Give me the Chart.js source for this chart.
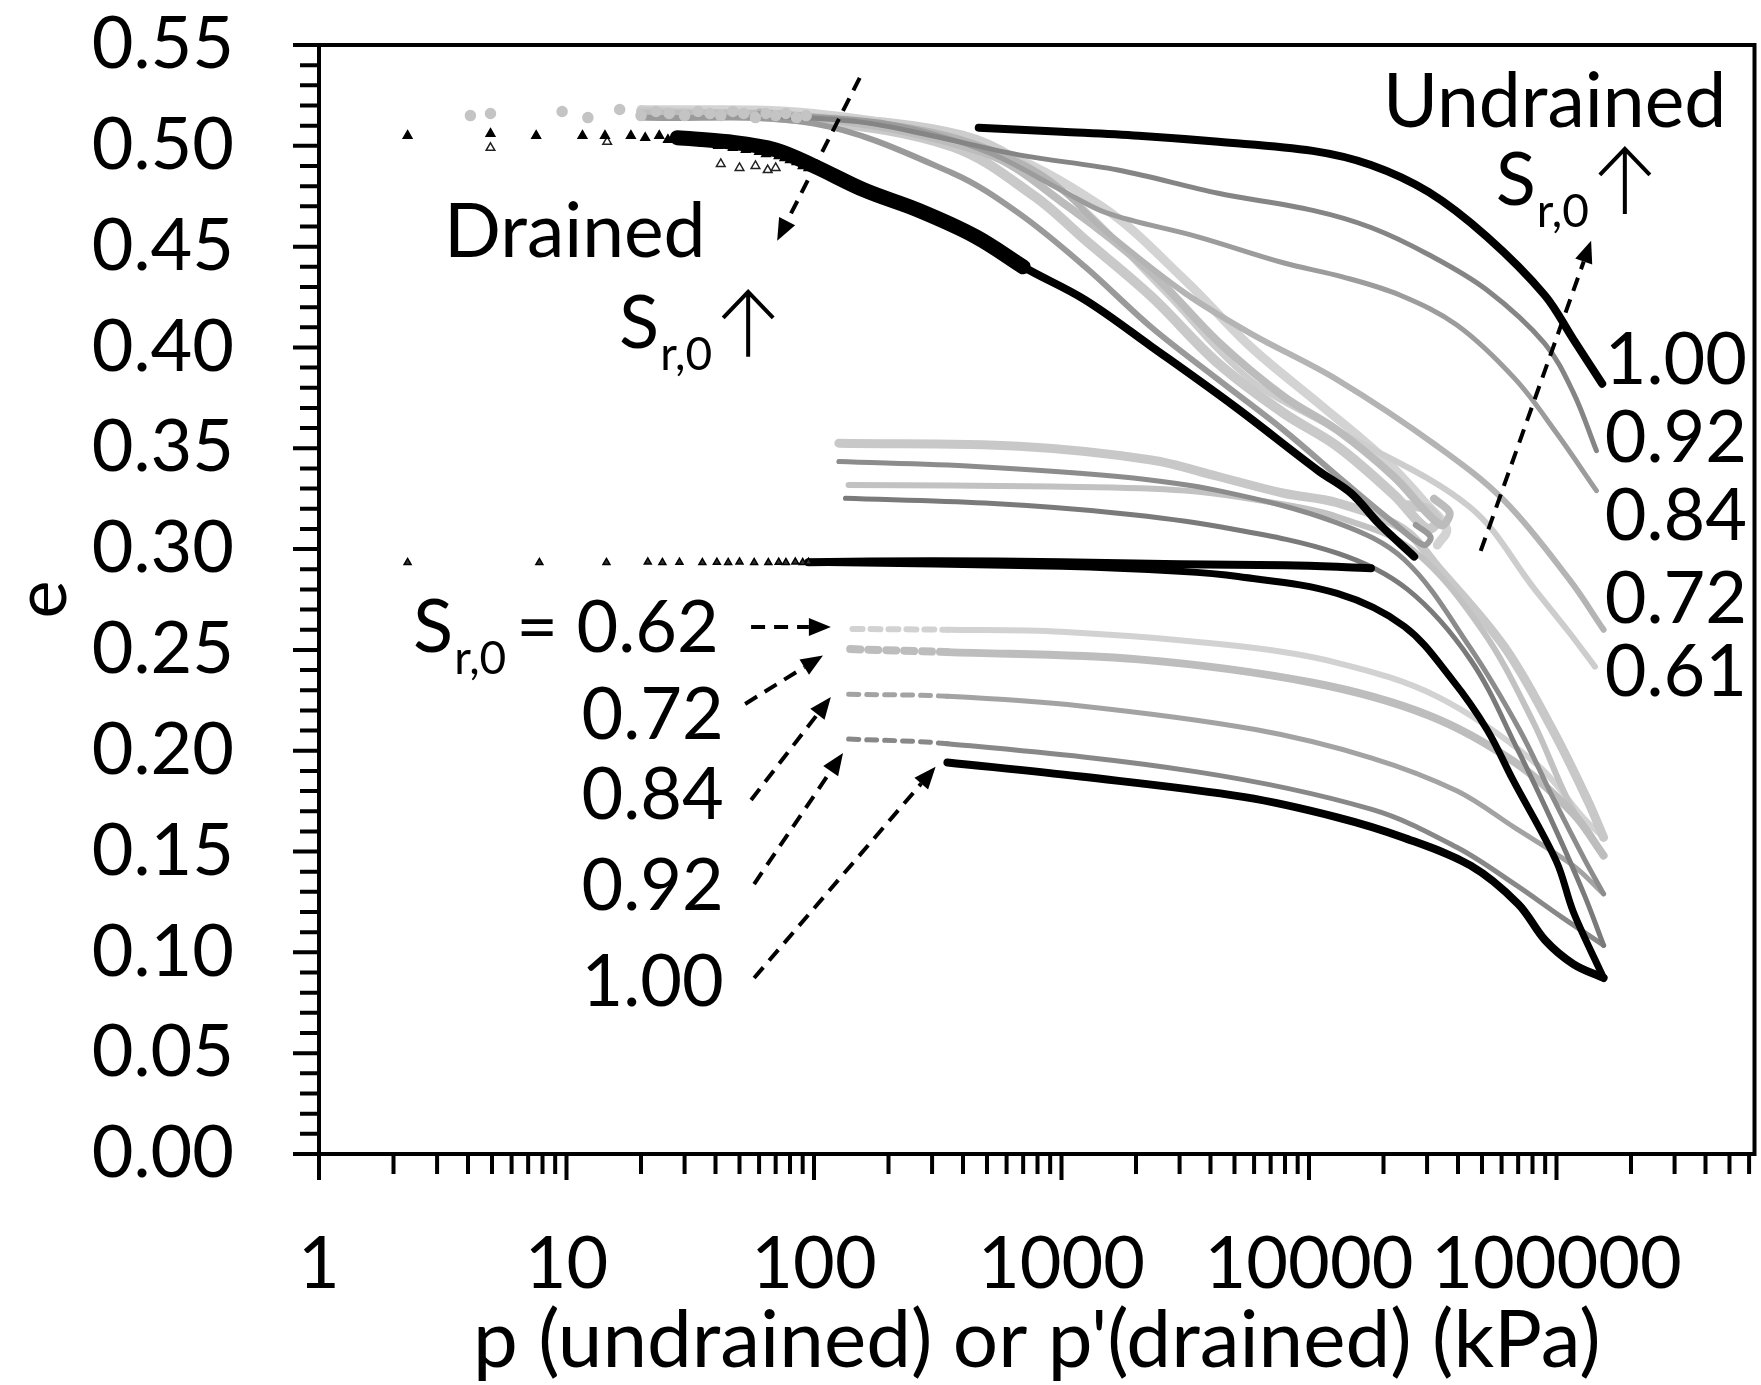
<!DOCTYPE html>
<html><head><meta charset="utf-8">
<script src="https://cdn.jsdelivr.net/npm/chart.js@4.4.0/dist/chart.umd.min.js"></script>
<style>html,body{margin:0;padding:0;background:#fff;}canvas{display:block;}</style>
</head><body>
<canvas id="c" width="1761" height="1385" style="width:1761px;height:1385px"></canvas>
<script>
// ---------- axis ranges and tick labels ----------
const X_MIN = 1, X_MAX = 631000;
const Y_MIN = 0, Y_MAX = 0.55;
const X_TICK_LABELS = ['1', '10', '100', '1000', '10000', '100000'];
const Y_TICK_LABELS = ['0.00','0.05','0.10','0.15','0.20','0.25','0.30','0.35','0.40','0.45','0.50','0.55'];
const X_TITLE = "p (undrained) or p'(drained) (kPa)";
const Y_TITLE = 'e';

// ---------- drained specimens: early scatter (p, e) ----------
const DR_TRI_P = [2.28, 4.93, 7.54, 11.6, 14.3, 18.2, 20.8, 23.7, 25.7, 27.8, 30, 32, 34, 36, 38, 41, 44, 47, 50, 53, 56, 60, 64, 68, 72, 76, 80, 85, 90, 95];
const DR_TRI_E = [0.505, 0.506, 0.505, 0.505, 0.505, 0.505, 0.504, 0.505, 0.503, 0.504, 0.503, 0.502, 0.503, 0.501, 0.502, 0.500, 0.501, 0.499, 0.500, 0.498, 0.499, 0.497, 0.496, 0.497, 0.495, 0.494, 0.493, 0.492, 0.490, 0.489];
const DR_HOLLOW_P = [4.93, 14.6, 42, 50, 58, 65, 70];
const DR_HOLLOW_E = [0.499, 0.502, 0.491, 0.489, 0.490, 0.488, 0.489];
const DR_CIRC_P = [4.09, 4.93, 9.6, 12.2, 16.4, 20, 23, 26, 30, 34, 38, 42, 47, 52, 58, 64, 70, 77, 85, 93];
const DR_CIRC_E = [0.515, 0.516, 0.517, 0.514, 0.518, 0.515, 0.517, 0.516, 0.515, 0.517, 0.516, 0.515, 0.517, 0.516, 0.514, 0.516, 0.515, 0.516, 0.514, 0.515];
const LOW_TRI_P = [2.28, 7.77, 14.5, 21.3, 24.4, 28.6, 35.4, 40.5, 45, 50, 57.3, 65.4, 72, 77, 84, 90, 95];
const LOW_TRI_E = [0.2934, 0.2934, 0.2934, 0.2936, 0.2934, 0.2935, 0.2933, 0.2935, 0.2934, 0.2936, 0.2934, 0.2933, 0.2935, 0.2934, 0.2936, 0.2934, 0.2935];

// ---------- drained Sr=1.00 (black) ----------
const DR_BAND_P = [28, 45, 70, 100, 160, 265, 450, 700];
const DR_BAND_E = [0.504, 0.502, 0.498, 0.490, 0.478, 0.468, 0.455, 0.440];
const DR_BLACK_P = [450, 700, 1245, 2306, 5010, 10870, 14800, 19100, 26600];
const DR_BLACK_E = [0.455, 0.440, 0.4236, 0.4005, 0.3707, 0.339, 0.3277, 0.3128, 0.2963];

// ---------- drained grey specimens (loading with hairpin) ----------
const DR_A_P = [20, 100, 362, 671, 1245, 2306, 4300, 7900, 14000, 22000, 29000, 31000, 27000];
const DR_A_E = [0.514, 0.511, 0.4865, 0.4666, 0.440, 0.410, 0.384, 0.359, 0.333, 0.313, 0.302, 0.306, 0.312];
const DR_B_P = [20, 100, 362, 780, 1245, 2306, 4300, 7900, 13000, 22000, 30000, 33000, 30000, 24000];
const DR_B_E = [0.517, 0.5125, 0.4997, 0.4749, 0.4534, 0.4253, 0.392, 0.3674, 0.351, 0.327, 0.310, 0.314, 0.320, 0.322];
const DR_C_P = [20, 100, 490, 1060, 2306, 4300, 7900, 13000, 22000, 34000, 37000, 32000];
const DR_C_E = [0.516, 0.514, 0.4964, 0.470, 0.437, 0.4028, 0.3757, 0.359, 0.336, 0.312, 0.318, 0.325];
const DR_D_P = [20, 100, 490, 1450, 3150, 5800, 11000, 20000, 30000, 36000, 33000];
const DR_D_E = [0.518, 0.516, 0.4997, 0.470, 0.4335, 0.4004, 0.372, 0.345, 0.322, 0.310, 0.302];

// ---------- undrained, loose (upper group) ----------
const UND_UP_100_P = [463, 1000, 2050, 4300, 10360, 17800, 30500, 52200, 89500, 117000, 153000];
const UND_UP_100_E = [0.509, 0.507, 0.505, 0.502, 0.4975, 0.4905, 0.477, 0.455, 0.426, 0.404, 0.382];
const UND_UP_092_P = [60, 150, 300, 671, 1690, 4300, 10360, 17800, 30500, 52200, 89500, 117000, 145000];
const UND_UP_092_E = [0.515, 0.512, 0.505, 0.4955, 0.488, 0.4765, 0.468, 0.4595, 0.446, 0.4286, 0.402, 0.3776, 0.3488];
const UND_UP_084_P = [60, 200, 500, 1000, 1530, 3530, 7870, 13660, 23250, 39700, 68000, 100000, 145000];
const UND_UP_084_E = [0.516, 0.511, 0.497, 0.478, 0.4666, 0.455, 0.442, 0.435, 0.426, 0.411, 0.3844, 0.3576, 0.329];
const UND_UP_072_P = [60, 300, 800, 1600, 3150, 5800, 13000, 33000, 61500, 113000, 155000];
const UND_UP_072_E = [0.517, 0.507, 0.487, 0.455, 0.427, 0.407, 0.384, 0.351, 0.324, 0.2847, 0.260];
const UND_UP_061_P = [60, 400, 1000, 2500, 5800, 13000, 44500, 82000, 113000, 143000];
const UND_UP_061_E = [0.517, 0.506, 0.478, 0.430, 0.384, 0.359, 0.321, 0.2798, 0.2584, 0.2417];

// ---------- dense specimens: loading from low p to the tips ----------
const U1_P = [126, 671, 2306, 4300, 7900, 13000, 24000, 33000, 61500, 96500, 134000, 155000];
const U1_E = [0.3525, 0.351, 0.3442, 0.336, 0.3277, 0.323, 0.310, 0.2913, 0.2516, 0.2103, 0.175, 0.157];
const U2_P = [126, 450, 1690, 4300, 13000, 24300, 44500, 71000, 96500, 130000, 155000];
const U2_E = [0.3434, 0.341, 0.336, 0.329, 0.313, 0.2947, 0.2516, 0.2103, 0.177, 0.146, 0.129];
const U3_P = [138, 910, 3150, 8000, 13000, 26000, 50000, 80000, 115000, 155000];
const U3_E = [0.3318, 0.331, 0.329, 0.322, 0.316, 0.300, 0.260, 0.215, 0.172, 0.148];
const U4_P = [134, 490, 1690, 4300, 13000, 25000, 45000, 70000, 100000, 130000, 155000];
const U4_E = [0.3252, 0.3228, 0.3178, 0.3112, 0.298, 0.280, 0.245, 0.200, 0.160, 0.128, 0.1035];
const LOW_FLAT_P = [95, 300, 1000, 3000, 8000, 13000, 17800];
const LOW_FLAT_E = [0.2935, 0.294, 0.2935, 0.2925, 0.292, 0.2913, 0.2905];
const LOW_LOAD_P = [95, 1000, 3000, 5170, 13000, 24300, 38000, 52500, 66700, 100000, 117000, 155000];
const LOW_LOAD_E = [0.2935, 0.2915, 0.289, 0.2864, 0.278, 0.2616, 0.235, 0.2103, 0.1855, 0.145, 0.120, 0.0873];

// ---------- undrained, dense (lower group) ----------
const L062_P = [143, 346, 1000, 5170, 13000, 33000, 82000, 130000, 155000];
const L062_E = [0.2604, 0.260, 0.259, 0.2519, 0.2436, 0.2268, 0.194, 0.166, 0.157];
const L072_P = [140, 346, 2050, 10360, 30500, 68000, 117000, 155000];
const L072_E = [0.2504, 0.2489, 0.2453, 0.2337, 0.2175, 0.1942, 0.1687, 0.148];
const L084_P = [138, 346, 1197, 6070, 17800, 39700, 68000, 117000, 155000];
const L084_E = [0.228, 0.227, 0.2222, 0.2105, 0.1965, 0.180, 0.1617, 0.143, 0.129];
const L092_P = [138, 346, 3530, 17800, 39700, 68000, 105000, 155000];
const L092_E = [0.2058, 0.2035, 0.1895, 0.171, 0.152, 0.1337, 0.1175, 0.1035];
const L100_P = [346, 1197, 5500, 13000, 24000, 45000, 70000, 90000, 117000, 155000];
const L100_E = [0.1942, 0.1872, 0.177, 0.167, 0.157, 0.143, 0.124, 0.106, 0.0942, 0.0873];

// ---------- annotations (anchored in data coordinates) ----------
const FONT = 'Lato, "Open Sans", sans-serif';
const NOTES = [
  {text: 'Drained', p: 10.8, e: 0.4568, align: 'center', base: 'middle', size: 75},
  {text: 'Undrained', p: 19900, e: 0.5094, align: 'left', base: 'alphabetic', size: 75},
  {text: '1.00', p: 589000, e: 0.382, align: 'right', base: 'alphabetic', size: 72},
  {text: '0.92', p: 589000, e: 0.3433, align: 'right', base: 'alphabetic', size: 72},
  {text: '0.84', p: 589000, e: 0.3046, align: 'right', base: 'alphabetic', size: 72},
  {text: '0.72', p: 589000, e: 0.2634, align: 'right', base: 'alphabetic', size: 72},
  {text: '0.61', p: 589000, e: 0.2272, align: 'right', base: 'alphabetic', size: 72},
  {text: '0.72', p: 43.2, e: 0.2059, align: 'right', base: 'alphabetic', size: 72},
  {text: '0.84', p: 43.2, e: 0.1663, align: 'right', base: 'alphabetic', size: 72},
  {text: '0.92', p: 43.2, e: 0.121, align: 'right', base: 'alphabetic', size: 72},
  {text: '1.00', p: 43.2, e: 0.0734, align: 'right', base: 'alphabetic', size: 72}
];
const S_NOTES = [
  {p: 16.3, e: 0.3998, tail: 'up'},
  {p: 56800, e: 0.4707, tail: 'up'},
  {p: 2.4, e: 0.249, tail: '= 0.62'}
];
const ARROWS = [
  {p0: 153, e0: 0.5337, p1: 71, e1: 0.4529},
  {p0: 49400, e0: 0.2991, p1: 138000, e1: 0.4529},
  {p0: 55.7, e0: 0.2614, p1: 117, e1: 0.2614},
  {p0: 52.7, e0: 0.2232, p1: 108.7, e1: 0.2472},
  {p0: 55.7, e0: 0.1756, p1: 117, e1: 0.2267},
  {p0: 57.3, e0: 0.1339, p1: 131, e1: 0.1989},
  {p0: 57.3, e0: 0.0873, p1: 310, e1: 0.192}
];

function pts(P, E) { return P.map((p, i) => ({x: p, y: E[i]})); }
function line(label, P, E, color, width, order, dashStart) {
  const ds = {label, data: pts(P, E), showLine: true, borderColor: color, backgroundColor: color,
    borderWidth: width, pointRadius: 0, tension: 0.35, order, borderCapStyle: 'round', borderJoinStyle: 'round'};
  if (dashStart) {
    ds.segment = {borderDash: ctx => {
      const d = ctx.chart.data.datasets[ctx.datasetIndex].data[ctx.p1DataIndex];
      return d && d.x <= 360 ? [10, 8] : undefined;
    }};
  }
  return ds;
}
function marks(label, P, E, style, fill, stroke, r, order) {
  return {label, data: pts(P, E), showLine: false, pointStyle: style, pointRadius: r,
    backgroundColor: fill, borderColor: stroke, borderWidth: 1.5, order};
}

const datasets = [
  marks('dr-tri', DR_TRI_P, DR_TRI_E, 'triangle', '#000', '#000', 5, 0),
  marks('dr-hollow', DR_HOLLOW_P, DR_HOLLOW_E, 'triangle', '#fff', '#222', 5, 0),
  marks('dr-circ', DR_CIRC_P, DR_CIRC_E, 'circle', '#c4c4c4', '#c4c4c4', 5, 1),
  marks('low-tri', LOW_TRI_P, LOW_TRI_E, 'triangle', '#333', '#000', 4, 0),
  line('und-up-1.00', UND_UP_100_P, UND_UP_100_E, '#000', 8, 1),
  line('dr-black-band', DR_BAND_P, DR_BAND_E, '#000', 15, 1),
  line('dr-black', DR_BLACK_P, DR_BLACK_E, '#000', 8, 1),
  line('low-flat', LOW_FLAT_P, LOW_FLAT_E, '#000', 8, 1),
  line('low-load', LOW_LOAD_P, LOW_LOAD_E, '#000', 7, 1),
  line('low-1.00', L100_P, L100_E, '#000', 8, 1),
  line('und-up-0.92', UND_UP_092_P, UND_UP_092_E, '#858585', 5, 2),
  line('u4', U4_P, U4_E, '#7a7a7a', 5, 2, true),
  line('u2', U2_P, U2_E, '#8c8c8c', 5, 2, true),
  line('low-0.92', L092_P, L092_E, '#888', 5, 2, true),
  line('dr-a', DR_A_P, DR_A_E, '#9a9a9a', 6, 3),
  line('und-up-0.84', UND_UP_084_P, UND_UP_084_E, '#9c9c9c', 5, 3),
  line('low-0.84', L084_P, L084_E, '#a3a3a3', 5, 3, true),
  line('und-up-0.72', UND_UP_072_P, UND_UP_072_E, '#b4b4b4', 6, 4),
  line('low-0.72', L072_P, L072_E, '#bdbdbd', 8, 4, true),
  line('u3', U3_P, U3_E, '#c2c2c2', 6, 4, true),
  line('dr-c', DR_C_P, DR_C_E, '#bcbcbc', 8, 5),
  line('dr-b', DR_B_P, DR_B_E, '#c9c9c9', 10, 5),
  line('u1', U1_P, U1_E, '#c8c8c8', 9, 5, true),
  line('und-up-0.61', UND_UP_061_P, UND_UP_061_E, '#cdcdcd', 6, 6),
  line('low-0.62', L062_P, L062_E, '#d2d2d2', 6, 6, true),
  line('dr-d', DR_D_P, DR_D_E, '#d3d3d3', 9, 6)
];

function dashArrow(ctx, x0, y0, x1, y1) {
  const a = Math.atan2(y1 - y0, x1 - x0), hl = 22, hw = 9;
  const bx = x1 - hl * Math.cos(a), by = y1 - hl * Math.sin(a);
  ctx.setLineDash([14, 9]); ctx.lineWidth = 4; ctx.lineCap = 'butt';
  ctx.beginPath(); ctx.moveTo(x0, y0); ctx.lineTo(bx, by); ctx.stroke();
  ctx.setLineDash([]);
  ctx.beginPath(); ctx.moveTo(x1, y1);
  ctx.lineTo(bx + hw * Math.sin(a), by - hw * Math.cos(a));
  ctx.lineTo(bx - hw * Math.sin(a), by + hw * Math.cos(a));
  ctx.closePath(); ctx.fill();
}
function upArrow(ctx, cx, base) {
  ctx.setLineDash([]); ctx.lineWidth = 4; ctx.lineCap = 'butt';
  ctx.beginPath();
  ctx.moveTo(cx, base + 9); ctx.lineTo(cx, base - 56);
  ctx.moveTo(cx - 25, base - 30); ctx.lineTo(cx, base - 56); ctx.lineTo(cx + 25, base - 30);
  ctx.stroke();
}

const decor = {
  id: 'decor',
  afterDatasetsDraw(chart) {
    const {ctx, chartArea: a, scales: {x, y}} = chart;
    ctx.save();
    ctx.strokeStyle = '#000'; ctx.lineWidth = 4; ctx.lineCap = 'butt';
    ctx.strokeRect(a.left, a.top, a.right - a.left, a.bottom - a.top);
    ctx.beginPath();
    for (let k = 0; k <= 6; k++) for (let m = 1; m <= 9; m++) {
      const v = m * Math.pow(10, k);
      if (v > X_MAX) continue;
      const px = x.getPixelForValue(v), len = m === 1 ? 26 : 20;
      ctx.moveTo(px, a.bottom); ctx.lineTo(px, a.bottom + len);
    }
    for (let i = 0; i <= 55; i++) {
      const py = y.getPixelForValue(i / 100), len = i % 5 === 0 ? 26 : 19;
      ctx.moveTo(a.left - len, py); ctx.lineTo(a.left, py);
    }
    ctx.stroke();
    ctx.restore();
  },
  afterDraw(chart) {
    const {ctx, scales: {x, y}} = chart;
    ctx.save();
    ctx.fillStyle = '#000'; ctx.strokeStyle = '#000';
    NOTES.forEach(n => {
      ctx.font = n.size + 'px ' + FONT;
      ctx.textAlign = n.align; ctx.textBaseline = n.base;
      ctx.fillText(n.text, x.getPixelForValue(n.p), y.getPixelForValue(n.e));
    });
    S_NOTES.forEach(n => {
      const px = x.getPixelForValue(n.p), py = y.getPixelForValue(n.e);
      ctx.textAlign = 'left'; ctx.textBaseline = 'alphabetic';
      ctx.font = '74px ' + FONT;
      ctx.fillText('S', px, py);
      let cx = px + ctx.measureText('S').width + 1;
      ctx.font = '46px ' + FONT;
      ctx.fillText('r,0', cx, py + 22);
      cx += ctx.measureText('r,0').width;
      if (n.tail === 'up') upArrow(ctx, cx + 36, py);
      else { ctx.font = '72px ' + FONT; ctx.fillText(n.tail, cx + 10, py); }
    });
    ARROWS.forEach(r => dashArrow(ctx, x.getPixelForValue(r.p0), y.getPixelForValue(r.e0),
                                  x.getPixelForValue(r.p1), y.getPixelForValue(r.e1)));
    ctx.restore();
  }
};

function build() {
  const tickFont = {family: FONT, size: 72};
  const titleFont = {family: FONT, size: 80, lineHeight: 1.1};
  new Chart(document.getElementById('c'), {
    type: 'scatter',
    data: {datasets},
    options: {
      responsive: false, animation: false, devicePixelRatio: 1,
      layout: {padding: {top: 45, right: 3, left: 0, bottom: 0}},
      plugins: {legend: {display: false}, tooltip: {enabled: false}},
      scales: {
        x: {
          type: 'logarithmic', min: X_MIN, max: X_MAX,
          grid: {display: false, drawTicks: true, tickLength: 68}, border: {display: false},
          ticks: {autoSkip: false, maxRotation: 0, minRotation: 0, padding: 0, color: '#000', font: tickFont,
            callback: v => { const l = Math.log10(v), r = Math.round(l);
              return Math.abs(l - r) < 1e-9 && X_TICK_LABELS[r] !== undefined ? X_TICK_LABELS[r] : ''; }},
          title: {display: true, text: X_TITLE, color: '#000', font: titleFont, padding: 0},
          afterFit: s => { s.height = 231; }
        },
        y: {
          min: Y_MIN, max: Y_MAX,
          grid: {display: false, drawTicks: true, tickLength: 85}, border: {display: false},
          ticks: {stepSize: 0.05, padding: 0, color: '#000', font: tickFont,
            callback: v => Y_TICK_LABELS[Math.round(v / 0.05)]},
          title: {display: true, text: Y_TITLE, color: '#000', font: tickFont, padding: 0},
          afterFit: s => { s.width = 319; }
        }
      }
    },
    plugins: [decor]
  });
}
if (document.fonts && document.fonts.load) {
  Promise.all([document.fonts.load('72px Lato'), document.fonts.load('46px Lato')]).then(build, build);
} else { build(); }
</script>
</body></html>
